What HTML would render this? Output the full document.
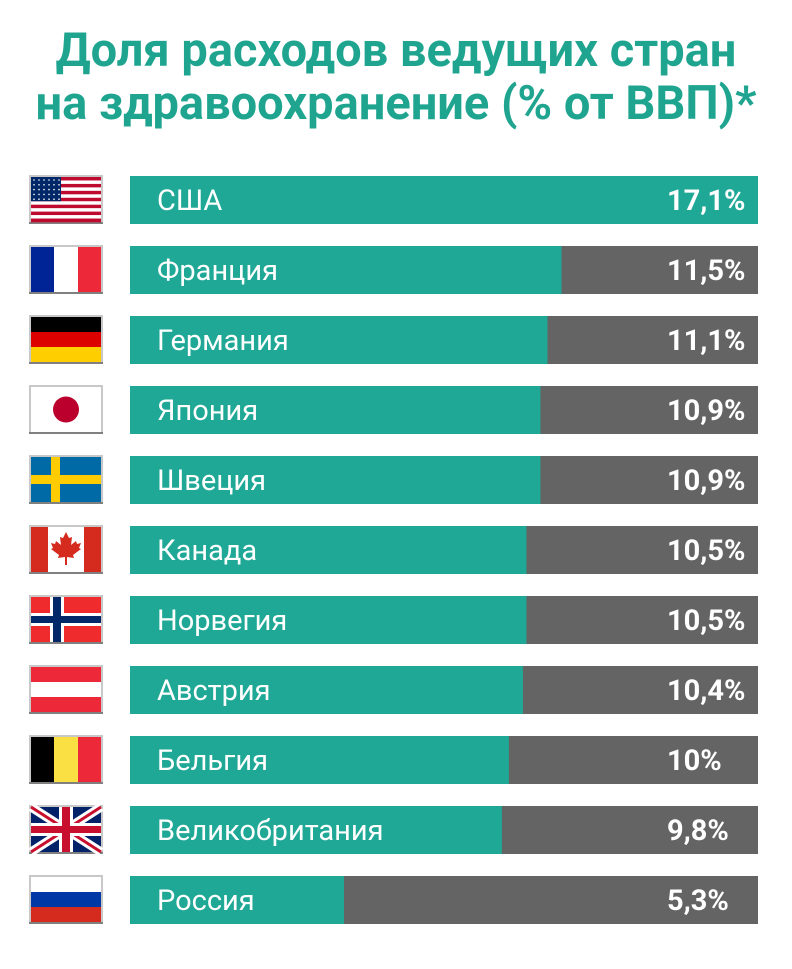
<!DOCTYPE html>
<html><head><meta charset="utf-8"><style>
body{margin:0;background:#fff;}
svg{display:block;font-family:"Roboto","Liberation Sans",sans-serif;}
</style></head><body>
<svg width="792" height="969" viewBox="0 0 792 969">
<text x="396" y="66" text-anchor="middle" font-size="47" font-weight="bold" fill="#1fa58f">Доля расходов ведущих стран</text>
<text x="396" y="119" text-anchor="middle" font-size="47" font-weight="bold" fill="#1fa58f">на здравоохранение (% от ВВП)*</text>
<g id="rows"></g>
</svg>
<script>
const countries=["США","Франция","Германия","Япония","Швеция","Канада","Норвегия","Австрия","Бельгия","Великобритания","Россия"];
const flags=["us","fr","de","jp","se","ca","no","at","be","gb","ru"];
const values=[17.1,11.5,11.1,10.9,10.9,10.5,10.5,10.4,10,9.8,5.3];
const valueLabels=["17,1%","11,5%","11,1%","10,9%","10,9%","10,5%","10,5%","10,4%","10%","9,8%","5,3%"];

const NS="http://www.w3.org/2000/svg";
const g=document.getElementById('rows');
const barX=130,barW=628,barH=48,rowY0=176,rowStep=70;
const vmax=17.1;
function xScale(v){return Math.max(0,Math.min(barW,28+(barW-28)*v/vmax));}
function el(t,a,p){const e=document.createElementNS(NS,t);for(const k in a)e.setAttribute(k,a[k]);(p||g).appendChild(e);return e;}
function flag(code,x,y,p){
  const w=70,h=45;
  const fg=el('g',{},p);
  el('rect',{x:x-2,y:y-2,width:w+4,height:h+4,fill:'#c8c8c8'},fg);
  el('rect',{x:x-2,y:y+h,width:w+4,height:2,fill:'#808080'},fg);
  const R=(a,b,c,d,f)=>el('rect',{x:x+a,y:y+b,width:c,height:d,fill:f},fg);
  if(code==='us'){for(let i=0;i<13;i++)R(0,i*h/13,w,h/13+0.3,i%2?'#fff':'#bf0a30');R(0,0,30,h*7/13,'#002868');
    for(let r=0;r<5;r++)for(let c=0;c<6;c++)el('circle',{cx:x+3+c*5,cy:y+3+r*4.8,r:0.8,fill:'#fff'},fg);}
  else if(code==='fr'){R(0,0,23,h,'#002395');R(23,0,24,h,'#fff');R(47,0,23,h,'#ed2939');}
  else if(code==='be'){R(0,0,23,h,'#000');R(23,0,24,h,'#fae042');R(47,0,23,h,'#ed2939');}
  else if(code==='de'){R(0,0,w,15,'#000');R(0,15,w,15,'#dd0000');R(0,30,w,15,'#ffce00');}
  else if(code==='ru'){R(0,0,w,15,'#fff');R(0,15,w,15,'#0039a6');R(0,30,w,15,'#d52b1e');}
  else if(code==='at'){R(0,0,w,15,'#ed2939');R(0,15,w,15,'#fff');R(0,30,w,15,'#ed2939');}
  else if(code==='jp'){R(0,0,w,h,'#fff');el('circle',{cx:x+35,cy:y+22.5,r:13,fill:'#bc002d'},fg);}
  else if(code==='se'){R(0,0,w,h,'#006aa7');R(20,0,9,h,'#fecc00');R(0,18,w,9,'#fecc00');}
  else if(code==='no'){R(0,0,w,h,'#ef2b2d');R(19,0,14,h,'#fff');R(0,16,w,13,'#fff');R(22,0,8,h,'#002868');R(0,19,w,7,'#002868');}
  else if(code==='ca'){R(0,0,w,h,'#fff');R(0,0,17,h,'#d52b1e');R(53,0,17,h,'#d52b1e');
    el('path',{d:`M${x+35} ${y+5} l3 6 3-1 -1 8 5-4 1 3 4-1 -2 5 2 1 -8 6 1 3 -7-1 v8 h-2 v-8 l-7 1 1-3 -8-6 2-1 -2-5 4 1 1-3 5 4 -1-8 3 1z`,fill:'#d52b1e'},fg);}
  else if(code==='gb'){R(0,0,w,h,'#012169');
    el('path',{d:`M${x} ${y}L${x+w} ${y+h}M${x+w} ${y}L${x} ${y+h}`,stroke:'#fff','stroke-width':9},fg);
    el('path',{d:`M${x} ${y}L${x+w} ${y+h}M${x+w} ${y}L${x} ${y+h}`,stroke:'#c8102e','stroke-width':3},fg);
    R(28,0,14,h,'#fff');R(0,16,w,13,'#fff');R(31,0,8,h,'#c8102e');R(0,19,w,7,'#c8102e');}
  return fg;
}
countries.forEach((c,i)=>{
  const y=rowY0+i*rowStep;
  const row=el('g',{});
  
  
  const f=flag(flags[i],31,y+1,row);
  
  
  const bg=el('rect',{x:barX,y:y,width:barW,height:barH,fill:'#646464'},row);
  
  
  const b=el('rect',{x:barX,y:y,width:xScale(values[i]),height:barH,fill:'#1fa896'},row);
  
  
  const t=el('text',{x:157,y:y+34,'font-size':29,fill:'#fff'},row);
  t.textContent=c;
  
  
  const v=el('text',{x:667,y:y+34,'font-size':29,'font-weight':'bold',fill:'#fff'},row);
  v.textContent=valueLabels[i];
  
  
});
</script>
</body></html>
